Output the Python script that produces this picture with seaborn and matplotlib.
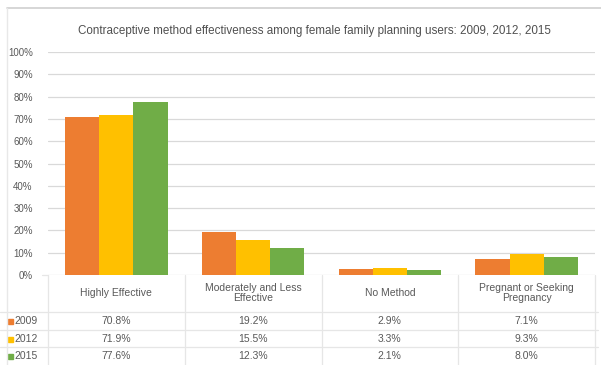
import matplotlib
matplotlib.use("Agg")
import matplotlib.pyplot as plt
from matplotlib.lines import Line2D
from matplotlib.patches import Rectangle
import seaborn as sns
import pandas as pd

# Data
methods = ["Highly Effective", "Moderately and Less Effective", "No Method",
           "Pregnant or Seeking Pregnancy"]
method_labels = ["Highly Effective", "Moderately and Less\nEffective", "No Method",
                 "Pregnant or Seeking\nPregnancy"]
years = ["2009", "2012", "2015"]
pct_2009 = [70.8, 19.2, 2.9, 7.1]
pct_2012 = [71.9, 15.5, 3.3, 9.3]
pct_2015 = [77.6, 12.3, 2.1, 8.0]
colors = ["#ED7D31", "#FFC000", "#70AD47"]
y_ticks = list(range(0, 101, 10))

series = {"2009": pct_2009, "2012": pct_2012, "2015": pct_2015}
df = pd.DataFrame([(m, y, v) for y in years for m, v in zip(methods, series[y])],
                  columns=["method", "year", "pct"])

sns.set_theme(style="white")
FONT = ["Liberation Sans", "DejaVu Sans"]
plt.rcParams["font.family"] = FONT
TXT = "#595959"
GRID = "#D9D9D9"

W, H = 601, 365
fig = plt.figure(figsize=(W / 100, H / 100), dpi=100)

def fx(px):
    return px / W

def fy(py):
    return 1 - py / H

ax_l, ax_r, ax_t, ax_b = 48, 595, 52, 275
ax = fig.add_axes([fx(ax_l), fy(ax_b), fx(ax_r - ax_l), fy(ax_t) - fy(ax_b)])

sns.barplot(data=df, x="method", y="pct", hue="year", order=methods,
            hue_order=years, palette=colors, width=0.75, saturation=1,
            linewidth=0, legend=False, ax=ax)

ax.set_ylim(0, 100)
ax.set_xlim(-0.5, len(methods) - 0.5)
ax.set_yticks(y_ticks)
ax.set_yticklabels([f"{t}%" for t in y_ticks], color=TXT, fontsize=7)
ax.tick_params(axis="y", length=0, pad=11)
ax.set_xticks([])
ax.set_xlabel("")
ax.set_ylabel("")
ax.yaxis.grid(True, color=GRID, linewidth=0.9)
ax.set_axisbelow(True)
for s in ax.spines.values():
    s.set_visible(False)

# Title
fig.text(fx(314), fy(31), "Contraceptive method effectiveness among female family planning users: 2009, 2012, 2015",
         ha="center", va="center", fontsize=8.4, color="#505050", fontweight="medium")

# Data table beneath the bars
xt = ax.get_xaxis_transform()
def ay(py):
    return (ax_b - py) / (ax_b - ax_t)

for i, lab in enumerate(method_labels):
    ax.text(i, ay(293), lab, transform=xt, ha="center", va="center",
            fontsize=7.5, color=TXT, linespacing=1.05, clip_on=False)

row_y = [321, 339, 356]
for yr, col, py in zip(years, colors, row_y):
    for i, v in enumerate(series[yr]):
        ax.text(i, ay(py), f"{v:.1f}%", transform=xt, ha="center", va="center",
                fontsize=7.5, color=TXT, clip_on=False)
    fig.patches.append(Rectangle((fx(8), fy(py + 2.5)), fx(5), fy(0) - fy(5),
                                 transform=fig.transFigure, color=col, figure=fig))
    fig.text(fx(14), fy(py), yr, ha="left", va="center", fontsize=7.5, color=TXT)

line_col = "#E6E6E6"
cat_w = (ax_r - ax_l) / len(methods)
for k in range(len(methods) + 1):
    x = ax_l + k * cat_w
    fig.add_artist(Line2D([fx(x), fx(x)], [fy(ax_b), fy(365)], color=line_col, lw=0.9))
fig.add_artist(Line2D([fx(42), fx(ax_l)], [fy(ax_b), fy(ax_b)], color=line_col, lw=0.9))
for py in [312, 330, 347]:
    fig.add_artist(Line2D([fx(0), fx(598)], [fy(py), fy(py)], color=line_col, lw=0.9))

# Outer frame
fig.add_artist(Line2D([fx(7), fx(601)], [fy(8), fy(8)], color="#D0D0D0", lw=1.2))
fig.add_artist(Line2D([fx(7), fx(7)], [fy(8), fy(365)], color="#E8E8E8", lw=1.0))

fig.savefig("out.png", dpi=100)
